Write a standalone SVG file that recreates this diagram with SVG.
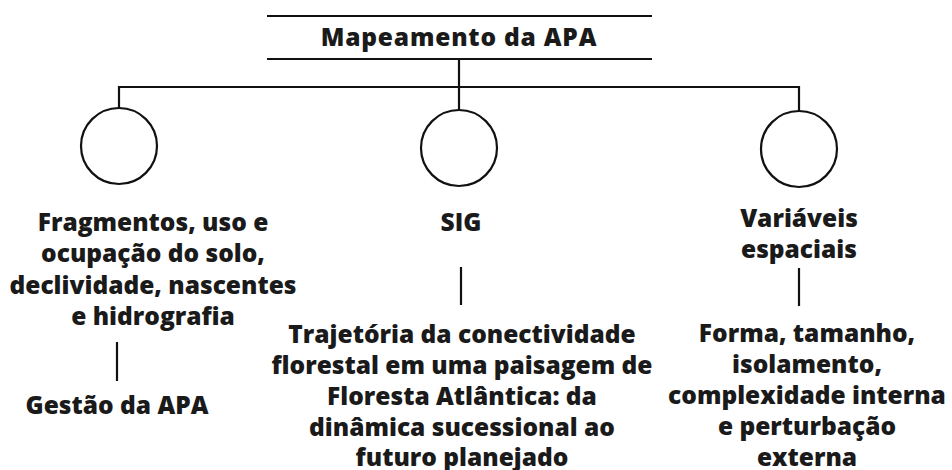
<svg xmlns="http://www.w3.org/2000/svg" width="952" height="470" viewBox="0 0 952 470">
<style>
.t{font-family:"Open Sans","Liberation Sans",sans-serif;font-weight:800;font-size:24.5px;fill:#1a1a1a;text-anchor:middle}
.title{letter-spacing:0.8px}
.ln{stroke:#111;stroke-width:2.2;fill:none}
.c{stroke:#111;stroke-width:2.2;fill:#fff}
</style>
<rect width="952" height="470" fill="#fff"/>
<g id="connectors">
<path class="ln" d="M459,59 V110"/>
<path class="ln" d="M119,108 V87 H799 V111"/>
<path class="ln" d="M117,342 V381"/>
<path class="ln" d="M461,267 V305"/>
<path class="ln" d="M799,268 V306"/>
</g>
<g id="title">
<path class="ln" d="M267,16 H652 M267,59 H652"/>
<text class="t title" x="459" y="46">Mapeamento da APA</text>
</g>
<g id="circle-left"><circle class="c" cx="119" cy="146" r="38"/></g>
<g id="circle-mid"><circle class="c" cx="459" cy="148" r="38"/></g>
<g id="circle-right"><circle class="c" cx="799" cy="149" r="38"/></g>
<g id="node-fragmentos">
<text class="t" x="153" y="231">Fragmentos, uso e</text>
<text class="t" x="153" y="262">ocupação do solo,</text>
<text class="t" x="153" y="294">declividade, nascentes</text>
<text class="t" x="153" y="325">e hidrografia</text>
</g>
<g id="node-gestao">
<text class="t" x="117" y="414">Gestão da APA</text>
</g>
<g id="node-sig">
<text class="t" x="461" y="231">SIG</text>
</g>
<g id="node-trajetoria">
<text class="t" x="462" y="343">Trajetória da conectividade</text>
<text class="t" x="462" y="374">florestal em uma paisagem de</text>
<text class="t" x="462" y="405">Floresta Atlântica: da</text>
<text class="t" x="462" y="436">dinâmica sucessional ao</text>
<text class="t" x="462" y="466">futuro planejado</text>
</g>
<g id="node-variaveis">
<text class="t" x="799" y="227">Variáveis</text>
<text class="t" x="799" y="258">espaciais</text>
</g>
<g id="node-forma">
<text class="t" x="807" y="342">Forma, tamanho,</text>
<text class="t" x="807" y="373">isolamento,</text>
<text class="t" x="807" y="404">complexidade interna</text>
<text class="t" x="807" y="435">e perturbação</text>
<text class="t" x="807" y="466">externa</text>
</g>
</svg>
